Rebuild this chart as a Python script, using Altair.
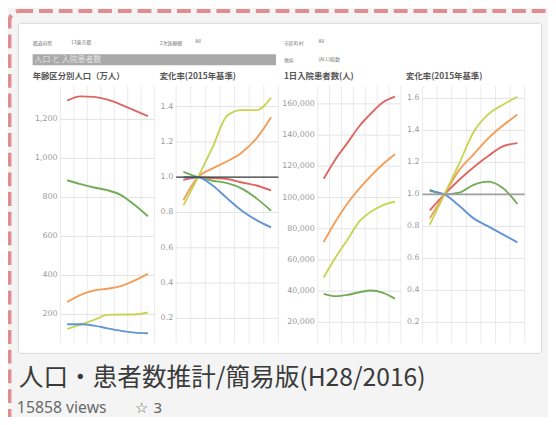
import altair as alt
import pandas as pd

# ---------------- data ----------------
years = [2010, 2015, 2020, 2025, 2030, 2035, 2040]
series = ["総数", "15～64歳", "65歳以上", "75歳以上", "0～14歳"]
colors = ["#d95f5b", "#6aa84f", "#f2984f", "#c3d34c", "#5b8fd1"]

# 年齢区分別人口(万人)
pop_total = [1296, 1318, 1315, 1301, 1276, 1246, 1217]
pop_15_64 = [888, 868, 851, 837, 812, 762, 703]
pop_65 = [264, 301, 323, 332, 345, 374, 408]
pop_75 = [126, 148, 172, 198, 200, 200, 210]
pop_0_14 = [150, 150, 143, 129, 116, 107, 104]

# 変化率(2015年基準) 人口
popr_total = [0.985, 1.0, 0.995, 0.99, 0.97, 0.953, 0.925]
popr_15_64 = [1.03, 1.0, 0.98, 0.966, 0.935, 0.88, 0.81]
popr_65 = [0.87, 1.0, 1.05, 1.09, 1.14, 1.22, 1.34]
popr_75 = [0.84, 1.0, 1.17, 1.35, 1.38, 1.38, 1.45]
popr_0_14 = [1.0, 1.0, 0.953, 0.88, 0.81, 0.757, 0.716]

# 1日入院患者数(人)
inp_total = [112000, 124600, 135000, 145700, 154000, 161000, 164600]
inp_15_64 = [38300, 36800, 37600, 39300, 40400, 38900, 35200]
inp_65 = [71400, 84600, 96200, 105700, 114100, 121500, 127800]
inp_75 = [48800, 61500, 73000, 84600, 91000, 95200, 97300]

# 変化率(2015年基準) 入院患者
inpr_total = [0.90, 1.0, 1.09, 1.17, 1.24, 1.30, 1.32]
inpr_15_64 = [1.03, 1.0, 1.01, 1.06, 1.08, 1.04, 0.94]
inpr_65 = [0.85, 1.0, 1.15, 1.25, 1.35, 1.43, 1.50]
inpr_75 = [0.81, 1.0, 1.19, 1.39, 1.50, 1.56, 1.61]
inpr_0_14 = [1.02, 1.0, 0.93, 0.85, 0.80, 0.75, 0.70]

p1_ticks = [200, 400, 600, 800, 1000, 1200]
p2_ticks = [0.2, 0.4, 0.6, 0.8, 1.0, 1.2, 1.4]
p3_ticks = [20000, 40000, 60000, 80000, 100000, 120000, 140000, 160000]
p4_ticks = [0.2, 0.4, 0.6, 0.8, 1.0, 1.2, 1.4, 1.6]

panel_titles = ["年齢区分別人口（万人）", "変化率(2015年基準)", "1日入院患者数(人)", "変化率(2015年基準)"]
main_title = "人口・患者数推計/簡易版(H28/2016)"
views_text = "15858 views"
stars_text = "☆ 3"

FONT = "Noto Sans CJK JP"
CARD_W, CARD_H = 531, 335
T, B = 64, 325
GRID_YEARS = [2007.5 + 5 * i for i in range(8)]


def long_df(cols):
    rows = []
    for name, vals in zip(series, cols):
        if vals is None:
            continue
        for yr, v in zip(years, vals):
            rows.append({"year": yr, "series": name, "value": v})
    return pd.DataFrame(rows)


def panel(df, L, R, anchor_a, anchor_b, ticks, fmt, ref=None):
    (va, pa), (vb, pb) = anchor_a, anchor_b

    def val_at(py):
        return va + (py - pa) * (vb - va) / (pb - pa)

    def yr_at(px):
        return 2007.5 + (px - L) * 35.0 / (R - L)

    xs = alt.Scale(domain=[yr_at(0), yr_at(CARD_W)], nice=False, zero=False)
    ys = alt.Scale(domain=[val_at(CARD_H), val_at(0)], nice=False, zero=False)
    top, bot = val_at(T), val_at(B)

    vgrid = alt.Chart(pd.DataFrame({"x": GRID_YEARS, "lo": bot, "hi": top})).mark_rule(
        color="#ebebeb", strokeWidth=1
    ).encode(
        x=alt.X("x:Q", scale=xs, axis=None),
        y=alt.Y("lo:Q", scale=ys, axis=None),
        y2="hi:Q",
    )
    hgrid = alt.Chart(pd.DataFrame({"t": ticks, "x0": 2007.5, "x1": 2042.5})).mark_rule(
        color="#e3e3e3", strokeWidth=1
    ).encode(
        x=alt.X("x0:Q", scale=xs, axis=None),
        x2="x1:Q",
        y=alt.Y("t:Q", scale=ys, axis=None),
    )
    labels = alt.Chart(pd.DataFrame({"t": ticks, "lx": yr_at(L - 3)})).mark_text(
        align="right", baseline="middle", font="DejaVu Sans", fontSize=8, color="#9a9a9a"
    ).encode(
        x=alt.X("lx:Q", scale=xs, axis=None),
        y=alt.Y("t:Q", scale=ys, axis=None),
        text=alt.Text("t:Q", format=fmt),
    )
    lines = alt.Chart(df).mark_line(strokeWidth=1.9, interpolate="monotone", opacity=0.95).encode(
        x=alt.X("year:Q", scale=xs, axis=None),
        y=alt.Y("value:Q", scale=ys, axis=None),
        color=alt.Color("series:N", scale=alt.Scale(domain=series, range=colors), legend=None),
        detail="series:N",
    )
    layers = [vgrid, hgrid, labels, lines]
    if ref is not None:
        rcolor, rwidth = ref
        refl = alt.Chart(pd.DataFrame({"r": [1.0], "x0": [2007.5], "x1": [2042.5]})).mark_rule(
            color=rcolor, strokeWidth=rwidth
        ).encode(
            x=alt.X("x0:Q", scale=xs, axis=None),
            x2="x1:Q",
            y=alt.Y("r:Q", scale=ys, axis=None),
        )
        layers.append(refl)
    return alt.layer(*layers)


p1 = panel(long_df([pop_total, pop_15_64, pop_65, pop_75, pop_0_14]),
           43.2, 138.8, (1200, 98), (200, 296), p1_ticks, ",")
p2 = panel(long_df([popr_total, popr_15_64, popr_65, popr_75, popr_0_14]),
           160.6, 264.4, (1.4, 85), (0.2, 300), p2_ticks, ".1f", ref=("#3a3a3a", 1.2))
p3 = panel(long_df([inp_total, inp_15_64, inp_65, inp_75, None]),
           304.3, 388.7, (160000, 82.3), (20000, 304), p3_ticks, ",")
p4 = panel(long_df([inpr_total, inpr_15_64, inpr_65, inpr_75, inpr_0_14]),
           410.6, 514.4, (1.6, 76.7), (0.2, 304), p4_ticks, ".1f", ref=("#a0a0a0", 1.6))

one = pd.DataFrame({"a": [0]})


def txt(s, x, y, size, color, weight="normal", font=FONT, baseline="middle"):
    return alt.Chart(one).mark_text(
        text=s, align="left", baseline=baseline, fontSize=size, color=color,
        font=font, fontWeight=weight
    ).encode(x=alt.value(x), y=alt.value(y))


border = alt.Chart(one).mark_rect(
    fillOpacity=0, stroke="#e08d92", strokeWidth=4, strokeDash=[14, 6], cornerRadius=10
).encode(x=alt.value(-8.5), x2=alt.value(560), y=alt.value(-12), y2=alt.value(430))

bar = alt.Chart(one).mark_rect(color="#a9a9a9").encode(
    x=alt.value(15), x2=alt.value(262), y=alt.value(32), y2=alt.value(43)
)

header = [
    txt("都道府県", 15, 20.7, 5, "#777"),
    txt("13東京都", 54, 19, 5, "#777"),
    txt("2次医療圏", 144, 20.7, 5, "#777"),
    txt("All", 180, 18, 5, "#777"),
    txt("市区町村", 270, 20.7, 5, "#777"),
    txt("All", 305, 18, 5, "#777"),
    txt("傷病", 270, 38, 5, "#777"),
    txt("(ALL)総数", 305, 37, 5, "#777"),
    bar,
    txt("人口 と 入院患者数", 17, 38, 8, "#e4e4e4"),
    txt(panel_titles[0], 15, 54, 8.5, "#555", weight="bold"),
    txt(panel_titles[1], 144, 54, 8.5, "#555", weight="bold"),
    txt(panel_titles[2], 270, 54, 8.5, "#555", weight="bold"),
    txt(panel_titles[3], 394, 54, 8.5, "#555", weight="bold"),
]

footer = [
    txt(main_title, 1, 361, 25, "#3a3a3a"),
    txt(views_text, -1, 396, 16, "#6a6a6a", font="Noto Sans", baseline="alphabetic"),
    txt(stars_text, 119, 396, 15, "#6a6a6a", font="DejaVu Sans", baseline="alphabetic"),
]

chart = alt.layer(
    border, *header, p1, p2, p3, p4, *footer
).resolve_scale(
    x="independent", y="independent"
).properties(
    width=CARD_W,
    height=CARD_H,
    background="#f4f4f4",
    padding={"left": 10, "top": 12, "right": 7, "bottom": 62},
    autosize=alt.AutoSizeParams(type="none"),
).configure_view(
    fill="white", stroke="#d6d6d6", cornerRadius=3
)

chart.save("out.html", embed_options={"renderer": "svg", "actions": False})
